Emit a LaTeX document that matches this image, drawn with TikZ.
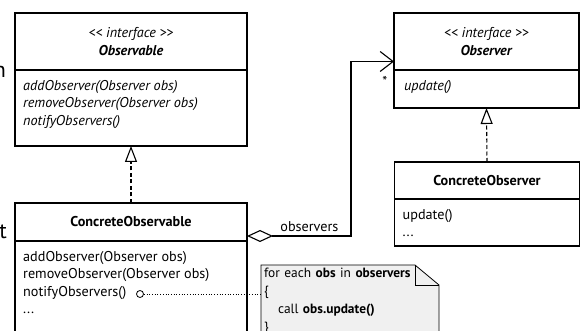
\documentclass[tikz,border=0pt]{standalone}
\usepackage{fontspec}
\setmainfont{PT Sans}
\usetikzlibrary{arrows.meta,positioning,backgrounds}

\begin{document}
\begin{tikzpicture}[
    x=1pt, y=-1pt,
    font=\fontsize{14.2}{17.5}\selectfont,
    classhead/.style={rectangle, draw=black, line width=1.1pt, fill=white,
      outer sep=0pt, inner sep=0pt, align=center},
    classbody/.style={rectangle, draw=black, line width=1.1pt, fill=white,
      outer sep=0pt, inner sep=0pt},
    ops/.style={align=left, inner sep=0pt, anchor=north west},
    realize/.style={-{Triangle[open, length=16pt, width=12pt]}, line width=1.1pt,
      dash pattern=on 4pt off 2.5pt},
    aggr/.style={{Diamond[open, length=26pt, width=12pt]}-{Straight Barb[length=13pt, width=20pt]},
      line width=1.1pt},
    notebox/.style={text width=172pt, minimum width=178pt, align=left,
      inner sep=3pt, outer sep=0pt, anchor=north west,
      font=\fontsize{13.4}{18}\selectfont},
    labl/.style={inner sep=1pt}
  ]
    \useasboundingbox (0,0) rectangle (581,331);

    % ── Observable interface ─────────────────────────────────
    \node[classhead, minimum width=232pt, minimum height=57pt] (obsHead) at (131,41.5)
      {\textit{<\kern0pt< interface >\kern0pt>}\\\textbf{\textit{Observable}}};
    \node[classbody, minimum width=232pt, minimum height=76pt, below=0pt of obsHead] (obsBody) {};
    \node[ops] (obsOps) at ([shift={(8pt,-10pt)}]obsBody.north west)
      {\textit{addObserver(Observer obs)}\\\textit{removeObserver(Observer obs)}\\\textit{notifyObservers()}};

    % ── Observer interface ───────────────────────────────────
    \node[classhead, minimum width=185pt, minimum height=57pt] (obsvHead) at (486.5,41.5)
      {\textit{<\kern0pt< interface >\kern0pt>}\\\textbf{\textit{Observer}}};
    \node[classbody, minimum width=185pt, minimum height=38pt, below=0pt of obsvHead] (obsvBody) {};
    \node[ops] (obsvOps) at ([shift={(10pt,-10pt)}]obsvBody.north west) {\textit{update()}};

    % ── ConcreteObservable ───────────────────────────────────
    \node[classhead, minimum width=232pt, minimum height=38pt] (coHead) at (131,222)
      {\textbf{ConcreteObservable}};
    \node[classbody, minimum width=232pt, minimum height=120pt, below=0pt of coHead] (coBody) {};
    \node[ops] (coOps) at ([shift={(8pt,-10pt)}]coBody.north west)
      {addObserver(Observer obs)\\removeObserver(Observer obs)\\notifyObservers()\\...};

    % ── ConcreteObserver ─────────────────────────────────────
    \node[classhead, minimum width=185pt, minimum height=37pt] (cvHead) at (487,180.5)
      {\textbf{ConcreteObserver}};
    \node[classbody, minimum width=185pt, minimum height=47pt, below=0pt of cvHead] (cvBody) {};
    \node[ops] (cvOps) at ([shift={(8pt,-10pt)}]cvBody.north west) {update()\\...};

    % ── cut-off words at the left edge ───────────────────────
    \node[anchor=east, inner sep=0pt, font=\fontsize{22}{22}\selectfont] (cutN) at (6,72) {n};
    \node[anchor=east, inner sep=0pt, font=\fontsize{22}{22}\selectfont] (cutT) at (7,232) {t};

    % ── note on notifyObservers() ────────────────────────────
    \node[notebox] (note) at (261,265)
      {for each \textbf{obs} in \textbf{observers}\\\{\\\hspace*{14pt}call \textbf{obs.update()}\\\}};
    \begin{scope}[on background layer]
      \filldraw[fill=black!6, line width=0.8pt] (note.north west) -- ([xshift=-24pt]note.north east)
        -- ([yshift=-20pt]note.north east) -- (note.south east) -- (note.south west) -- cycle;
    \end{scope}
    \draw[line width=0.8pt] ([xshift=-24pt]note.north east) |- ([yshift=-20pt]note.north east);
    \node[circle, draw, line width=0.8pt, inner sep=0pt, minimum size=7pt] (notifyDot) at (140,294) {};
    \draw[dotted, line width=0.7pt] (notifyDot) -- (notifyDot -| note.west);

    % ── realizations ─────────────────────────────────────────
    \draw[realize] (coHead.north) -- (obsBody.south);
    \draw[realize] (cvHead.north) -- (obsvBody.south);

    % ── aggregation: observers ───────────────────────────────
    \draw[aggr] ([yshift=-14pt]coHead.east) -- node[labl, above=3pt, pos=0.6]{observers} ++(104,0)
      |- ([yshift=-20pt]obsvHead.west) node[labl, anchor=north east, xshift=-5pt, yshift=-13pt]{*};
\end{tikzpicture}
\end{document}
